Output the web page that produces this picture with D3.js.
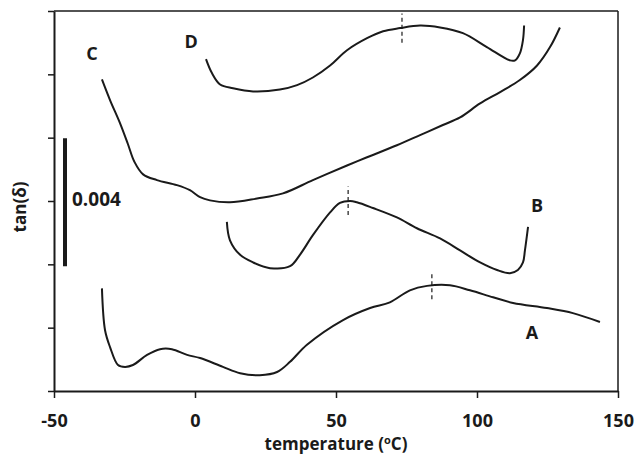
<!DOCTYPE html>
<html>
<head>
<meta charset="utf-8">
<script src="https://cdn.jsdelivr.net/npm/d3@7"></script>
<style>
  html, body { margin: 0; padding: 0; background: #fff; }
  svg text { font-family: "Open Sans", "Noto Sans", sans-serif; font-weight: bold; fill: #1a1a1a; }
</style>
</head>
<body>
<svg id="chart" width="635" height="457"></svg>
<script>
// ---- data (temperature in °C, tan(δ) in offset units; 1 unit = 0.002) ----
const xTicks = [-50, 0, 50, 100, 150];
const yTicks = [0, 1, 2, 3, 4, 5, 6];

const curveA_T = [-33.0,-31.9,-30.1,-27.3,-24.8,-22.0,-17.0,-12.4,-8.2,-2.8,1.8,9.9,16.0,23.0,29.1,33.7,39.7,52.5,62.1,69.1,76.2,82.3,90.4,97.5,105.7,112.8,124.8,134.0,143.6];
const curveA_V = [1.62,0.96,0.69,0.41,0.38,0.41,0.57,0.66,0.66,0.57,0.52,0.38,0.28,0.25,0.30,0.46,0.73,1.12,1.31,1.40,1.59,1.66,1.67,1.59,1.48,1.39,1.31,1.23,1.09];

const curveB_T = [11.3,12.4,16.0,20.6,26.6,33.7,37.2,41.8,47.9,51.4,55.0,57.4,63.1,71.6,78.7,86.9,94.0,101.1,107.1,111.7,114.5,116.3,117.0,118.1];
const curveB_V = [2.67,2.38,2.15,2.03,1.94,1.97,2.15,2.46,2.82,2.97,3.00,2.98,2.89,2.74,2.57,2.41,2.22,2.03,1.91,1.86,1.91,2.03,2.22,2.59];

const curveC_T = [-33.0,-30.1,-26.6,-23.8,-21.5,-18.4,-13.5,-6.4,-1.8,1.8,5.3,12.4,22.0,31.2,41.8,53.9,61.0,71.6,79.8,87.9,94.0,101.1,108.2,115.2,121.3,125.9,129.4];
const curveC_V = [4.92,4.59,4.23,3.90,3.62,3.42,3.33,3.25,3.17,3.06,3.01,2.98,3.04,3.12,3.33,3.56,3.69,3.88,4.04,4.20,4.32,4.54,4.72,4.91,5.14,5.43,5.74];

const curveD_T = [3.9,6.0,8.9,13.5,20.6,30.1,36.2,41.8,47.9,53.9,61.0,66.7,72.7,79.8,86.9,95.0,103.5,111.7,113.5,115.2,116.3,116.7];
const curveD_V = [5.24,5.02,4.84,4.78,4.73,4.76,4.83,4.95,5.14,5.38,5.57,5.68,5.73,5.77,5.74,5.65,5.43,5.22,5.22,5.33,5.54,5.77];

// peak markers (dashed): temperature, bottom value, top value
const peakT  = [84.0, 54.3, 73.4];
const peakV0 = [1.45, 2.78, 5.50];
const peakV1 = [1.89, 3.23, 5.96];

// curve labels
const labelText = ["A", "B", "C", "D"];
const labelT = [119.5, 121.3, -36.5, -1.4];
const labelV = [0.82, 2.82, 5.23, 5.42];

// scale bar: 2 units = 0.004
const scaleBarT = -46.1;
const scaleBarV = [1.97, 3.99];
const scaleBarLabel = "0.004";

// ---- drawing ----
const svg = d3.select("#chart");
const x = d3.scaleLinear().domain([-50, 150]).range([54, 618]);
const y = d3.scaleLinear().domain([0, 6]).range([391, 11]);
const ink = "#1a1a1a";

// frame (top & right)
svg.append("line").attr("x1", x(-50)).attr("x2", x(150)).attr("y1", y(6)).attr("y2", y(6))
  .attr("stroke", ink).attr("stroke-width", 1.5);
svg.append("line").attr("x1", x(150)).attr("x2", x(150)).attr("y1", y(6)).attr("y2", y(0))
  .attr("stroke", ink).attr("stroke-width", 1.5);

// x axis
const xAxis = svg.append("g").attr("transform", `translate(0,${y(0)})`)
  .call(d3.axisBottom(x).tickValues(xTicks).tickSize(7).tickSizeOuter(0).tickPadding(16)
    .tickFormat(d => String(d)));
xAxis.select(".domain").attr("stroke", ink).attr("stroke-width", 2);
xAxis.selectAll(".tick line").attr("stroke", ink).attr("stroke-width", 1.5);
xAxis.selectAll(".tick text").style("font-size", "18px").attr("fill", ink);

// y axis
const yAxis = svg.append("g").attr("transform", `translate(${x(-50)},0)`)
  .call(d3.axisLeft(y).tickValues(yTicks).tickSize(6).tickSizeOuter(0).tickFormat(""));
yAxis.select(".domain").attr("stroke", ink).attr("stroke-width", 2);
yAxis.selectAll(".tick line").attr("stroke", ink).attr("stroke-width", 1.5);

// axis titles
const xt = svg.append("text").attr("x", 336).attr("y", 450).attr("text-anchor", "middle")
  .style("font-size", "17px");
xt.append("tspan").text("temperature (");
xt.append("tspan").text("o").attr("dy", -6).style("font-size", "11px");
xt.append("tspan").text("C)").attr("dy", 6);

svg.append("text").attr("transform", "translate(26,207) rotate(-90)")
  .attr("text-anchor", "middle").style("font-size", "17px").text("tan(δ)");

// curves
const line = d3.line().x(d => x(d[0])).y(d => y(d[1])).curve(d3.curveCatmullRom.alpha(0.5));
const curves = [[curveA_T, curveA_V], [curveB_T, curveB_V], [curveC_T, curveC_V], [curveD_T, curveD_V]];
curves.forEach(([ts, vs]) => {
  svg.append("path").datum(ts.map((t, i) => [t, vs[i]]))
    .attr("d", line).attr("fill", "none").attr("stroke", ink).attr("stroke-width", 2);
});

// dashed peak markers
peakT.forEach((t, i) => {
  svg.append("line").attr("x1", x(t)).attr("x2", x(t)).attr("y1", y(peakV0[i])).attr("y2", y(peakV1[i]))
    .attr("stroke", ink).attr("stroke-width", 1.2).attr("stroke-dasharray", "4,3");
});

// curve labels
labelText.forEach((s, i) => {
  svg.append("text").attr("x", x(labelT[i])).attr("y", y(labelV[i])).attr("text-anchor", "middle")
    .style("font-size", "18px").text(s);
});

// scale bar
svg.append("line").attr("x1", x(scaleBarT)).attr("x2", x(scaleBarT))
  .attr("y1", y(scaleBarV[0])).attr("y2", y(scaleBarV[1]))
  .attr("stroke", ink).attr("stroke-width", 4);
svg.append("text").attr("x", 72).attr("y", 206).style("font-size", "19px").text(scaleBarLabel);
</script>
</body>
</html>
